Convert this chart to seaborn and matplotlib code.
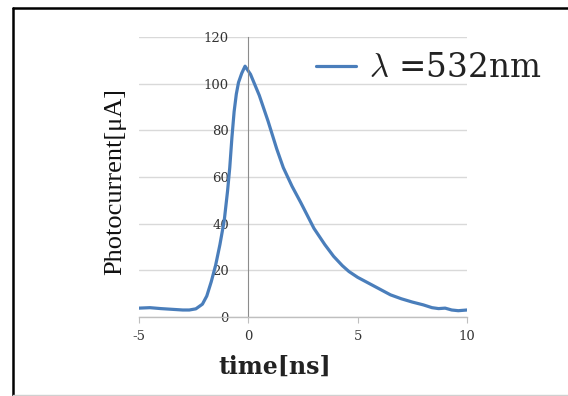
import matplotlib
matplotlib.use("Agg")
import matplotlib.pyplot as plt
from matplotlib.lines import Line2D
import seaborn as sns
import pandas as pd

time_ns = [-5, -4.5, -4, -3.5, -3, -2.7, -2.4, -2.1, -1.9, -1.7, -1.5, -1.3, -1.1,
           -0.95, -0.85, -0.75, -0.65, -0.55, -0.45, -0.3, -0.15, 0.1, 0.5, 0.9, 1.3, 1.6,
           2.0, 2.4, 3.0, 3.5, 3.9, 4.3, 4.6, 5.0, 5.5, 6.0, 6.5, 7.0, 7.5, 8.0,
           8.4, 8.7, 9.0, 9.3, 9.6, 10.0]
photocurrent = [3.8, 4.0, 3.6, 3.3, 3.0, 3.0, 3.5, 5.5, 9, 15, 22, 31, 41.5,
                54, 64, 77, 88, 95.5, 100.5, 104.5, 107.5, 104, 95, 84, 72, 64,
                56, 49, 38, 31, 26, 22, 19.5, 17, 14.5, 12, 9.5, 7.8, 6.4, 5.2,
                4.0, 3.6, 3.8, 3.0, 2.7, 3.0]
x_ticks = [-5, 0, 5, 10]
y_ticks = [0, 20, 40, 60, 80, 100, 120]
series_label = r"$\lambda$ =532nm"

sns.set_theme(style="white")
plt.rcParams["font.family"] = ["DejaVu Serif"]
plt.rcParams["mathtext.fontset"] = "cm"
plt.rcParams["axes.unicode_minus"] = False

df = pd.DataFrame({"time": time_ns, "current": photocurrent})

fig = plt.figure(figsize=(5.68, 3.96), dpi=100)
ax = fig.add_axes([139/568, 1 - 317/396, (467-139)/568, (317-37)/396])

sns.lineplot(data=df, x="time", y="current", ax=ax, color="#4a7ebb",
             linewidth=2.3, label=series_label, estimator=None, sort=False)

ax.set_xlim(-5, 10)
ax.set_ylim(0, 120)
ax.set_xticks(x_ticks)
ax.set_yticks(y_ticks)
ax.set_xticklabels([str(t) for t in x_ticks])
ax.set_yticklabels([str(t) for t in y_ticks])
ax.grid(axis="y", color="#d9d9d9", linewidth=1)
ax.grid(axis="x", visible=False)

for s in ["top", "right"]:
    ax.spines[s].set_visible(False)
ax.spines["left"].set_position(("data", 0))
ax.spines["left"].set_color("#8c8c8c")
ax.spines["left"].set_linewidth(0.8)
ax.spines["bottom"].set_color("#bfbfbf")
ax.spines["bottom"].set_linewidth(1)

ax.tick_params(axis="y", length=0, pad=14, labelsize=9.5, colors="#333333")
ax.tick_params(axis="x", length=4, width=0.8, color="#bfbfbf", direction="out",
               pad=5, labelsize=9.5, labelcolor="#333333", bottom=True)

ax.set_xlabel("time[ns]", fontsize=17, family="DejaVu Serif", fontweight="bold",
              color="#222222")
ax.xaxis.set_label_coords(0.415, -0.135)
ax.set_ylabel("Photocurrent[μA]", fontsize=19, family="Liberation Serif",
              color="#111111")
ax.yaxis.set_label_coords(-0.04, 0.485)

leg = ax.legend(loc="center left", bbox_to_anchor=(0.54, 0.889), frameon=False,
                fontsize=23.5, handlelength=1.23, handletextpad=0.4, borderaxespad=0,
                borderpad=0)
for line in leg.get_lines():
    line.set_linewidth(2.3)
for txt in leg.get_texts():
    txt.set_color("#222222")

fig.add_artist(Line2D([12.5/568, 12.5/568], [1/396, 1 - 7.5/396], color="black",
                      linewidth=1.8, transform=fig.transFigure))
fig.add_artist(Line2D([12.5/568, 1.0], [1 - 7.5/396, 1 - 7.5/396], color="black",
                      linewidth=1.8, transform=fig.transFigure))
fig.add_artist(Line2D([12.5/568, 1.0], [1/396, 1/396], color="#d0d0d0",
                      linewidth=1, transform=fig.transFigure))

fig.savefig("out.png", dpi=100)
